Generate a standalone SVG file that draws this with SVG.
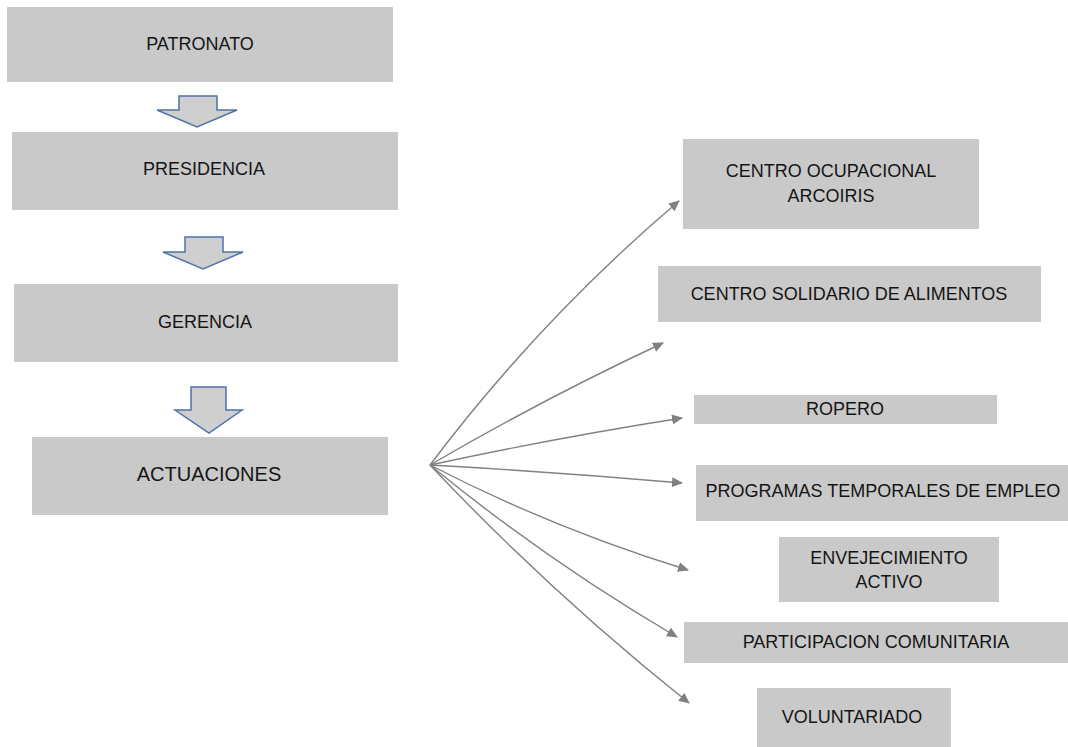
<svg xmlns="http://www.w3.org/2000/svg" width="1068" height="747" viewBox="0 0 1068 747">
<style>
.box{fill:#c9c9c9;}
.t{font-family:"Liberation Sans",Arial,sans-serif;font-size:18px;fill:#151515;text-anchor:middle;dominant-baseline:central;}
.big{font-size:20px;}
.blk{fill:#cfcfcf;stroke:#4f73a8;stroke-width:1.5;stroke-linejoin:miter;}
.con{fill:none;stroke:#808080;stroke-width:1.4;}
</style>
<defs>
<marker id="ah" markerWidth="12" markerHeight="10" refX="10" refY="5" orient="auto" markerUnits="userSpaceOnUse">
<path d="M0,0 L11,5 L0,10 Z" fill="#808080"/>
</marker>
</defs>
<rect width="1068" height="747" fill="#ffffff"/>

<g id="patronato"><rect class="box" x="7" y="7" width="386" height="75"/><text class="t" x="200" y="44">PATRONATO</text></g>
<g id="presidencia"><rect class="box" x="12" y="132" width="386" height="78"/><text class="t" x="204" y="169">PRESIDENCIA</text></g>
<g id="gerencia"><rect class="box" x="14" y="284" width="384" height="78"/><text class="t" x="205" y="322">GERENCIA</text></g>
<g id="actuaciones"><rect class="box" x="32" y="437" width="356" height="78"/><text class="t big" x="209" y="474">ACTUACIONES</text></g>

<g id="flow-arrows">
<path class="blk" d="M179,96 H217 V110 H237 L197,127 L157,110 H179 Z"/>
<path class="blk" d="M185,237 H223 V252 H243 L203,269 L163,252 H185 Z"/>
<path class="blk" d="M191,387 H226 V410 H242 L209,433 L175,410 H191 Z"/>
</g>

<g id="centro-ocupacional"><rect class="box" x="683" y="139" width="296" height="90"/><text class="t" x="831" y="171">CENTRO OCUPACIONAL</text><text class="t" x="831" y="196">ARCOIRIS</text></g>
<g id="centro-solidario"><rect class="box" x="658" y="266" width="383" height="56"/><text class="t" x="849" y="294">CENTRO SOLIDARIO DE ALIMENTOS</text></g>
<g id="ropero"><rect class="box" x="694" y="395" width="303" height="29"/><text class="t" x="845" y="409">ROPERO</text></g>
<g id="programas"><rect class="box" x="696" y="465" width="372" height="56"/><text class="t" x="883" y="491">PROGRAMAS TEMPORALES DE EMPLEO</text></g>
<g id="envejecimiento"><rect class="box" x="779" y="537" width="220" height="65"/><text class="t" x="889" y="558">ENVEJECIMIENTO</text><text class="t" x="889" y="582">ACTIVO</text></g>
<g id="participacion"><rect class="box" x="684" y="622" width="384" height="41"/><text class="t" x="876" y="642">PARTICIPACION COMUNITARIA</text></g>
<g id="voluntariado"><rect class="box" x="757" y="688" width="194" height="59"/><text class="t" x="852" y="717">VOLUNTARIADO</text></g>

<g id="connectors">
<path class="con" marker-end="url(#ah)" d="M430,465 Q540,319 679,201"/>
<path class="con" marker-end="url(#ah)" d="M430,465 Q545,398 663,343"/>
<path class="con" marker-end="url(#ah)" d="M430,465 Q555,438 682,418"/>
<path class="con" marker-end="url(#ah)" d="M430,465 Q556,472 682,483"/>
<path class="con" marker-end="url(#ah)" d="M430,465 Q554,529 688,570"/>
<path class="con" marker-end="url(#ah)" d="M430,465 Q547,561 677,637"/>
<path class="con" marker-end="url(#ah)" d="M430,465 Q551,593 689,703"/>
</g>
</svg>
